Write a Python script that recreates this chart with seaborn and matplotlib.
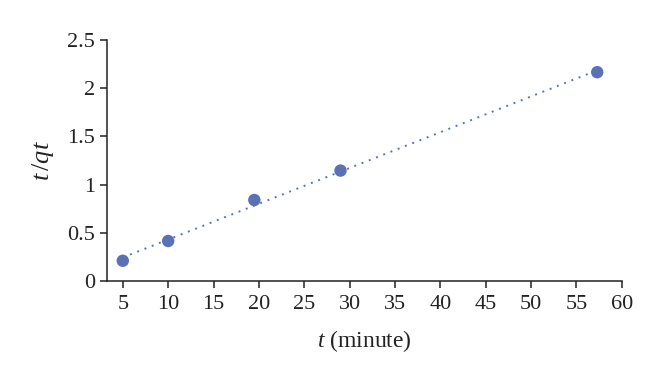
import numpy as np
import pandas as pd
import matplotlib
matplotlib.use("Agg")
import matplotlib.pyplot as plt
import seaborn as sns

# data
t_min = [5, 10, 19.5, 29, 57.3]
t_over_qt = [0.21, 0.415, 0.84, 1.145, 2.165]
x_ticks = list(range(5, 61, 5))
y_ticks = [0, 0.5, 1, 1.5, 2, 2.5]
y_tick_labels = ["0", "0.5", "1", "1.5", "2", "2.5"]

df = pd.DataFrame({"t": t_min, "tq": t_over_qt})

sns.set_style("ticks")
plt.rcParams["font.family"] = ["Liberation Serif", "DejaVu Serif"]
plt.rcParams["mathtext.fontset"] = "custom"
plt.rcParams["mathtext.rm"] = "Liberation Serif"
plt.rcParams["mathtext.it"] = "Liberation Serif:italic"

col = "#5a72b5"

fig = plt.figure(figsize=(6.6, 3.8), dpi=100)
ax = fig.add_axes([0.162, 0.2605, 0.78, 0.6345])

sns.regplot(x="t", y="tq", data=df, ci=None, ax=ax,
            scatter_kws={"s": 80, "color": col, "edgecolor": "none", "alpha": 1},
            line_kws={"color": col, "lw": 1.4, "ls": (0, (1, 3))})

ax.set_xlim(3.25, 60)
ax.set_ylim(0, 2.5)
ax.set_xticks(x_ticks)
ax.set_yticks(y_ticks)
ax.set_yticklabels(y_tick_labels)
ax.tick_params(axis="both", labelsize=16, length=5, width=1.1,
               color="#222222", labelcolor="#222222", direction="out")
ax.tick_params(axis="x", pad=5)
for s in ["left", "bottom"]:
    ax.spines[s].set_linewidth(1.1)
    ax.spines[s].set_color("#222222")
sns.despine(ax=ax)

ax.set_xlabel("$t$ (minute)", fontsize=17, color="#222222", labelpad=10)
ax.set_ylabel("$t\\,/qt$", fontsize=19, color="#222222", labelpad=8)

fig.savefig("out.png", dpi=100)
